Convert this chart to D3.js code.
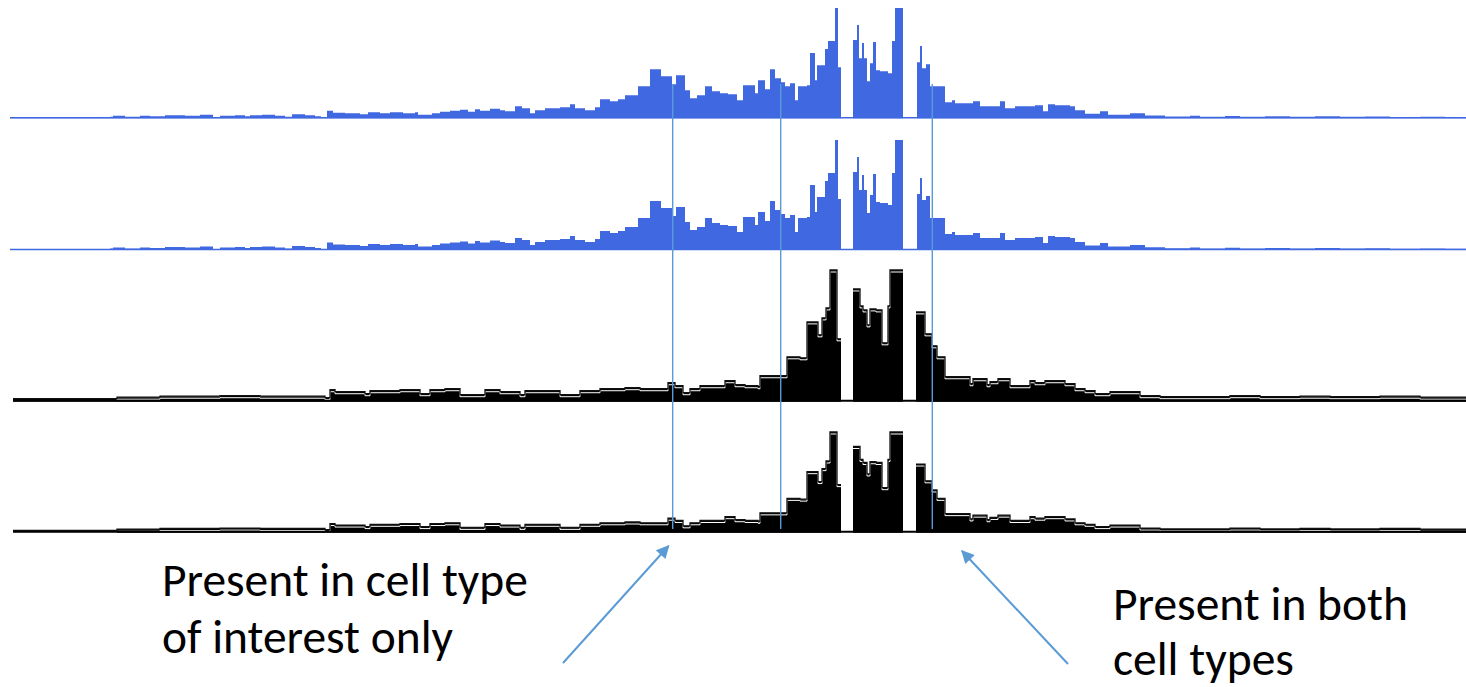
<!DOCTYPE html>
<html>
<head>
<meta charset="utf-8">
<script src="https://cdn.jsdelivr.net/npm/d3@7"></script>
<style>
  html, body { margin: 0; padding: 0; background: #fff; }
  svg { display: block; }
</style>
</head>
<body>
<svg id="chart" width="1466" height="687"></svg>
<script>
// Window length (kb) shown in every track
const windowKb = 1456;

// Coverage profile for the cell type of interest (blue tracks):
// each value holds from its break to the next break; null = unmappable gap
const blueBreaks = [0, 100, 103, 115, 130, 140, 155, 175, 190, 203, 210, 225, 235, 240, 252, 265, 275, 282, 295, 305, 311, 317, 323, 335, 350, 358, 370, 380, 393, 405, 408, 422, 430, 440, 450, 458, 465, 470, 480, 490, 495, 505, 512, 520, 525, 535, 550, 560, 565, 575, 585, 590, 600, 608, 615, 628, 640, 651, 662, 666, 675, 680, 687, 695, 702, 710, 718, 727, 733, 745, 748, 755, 760, 765, 771, 775, 780, 785, 788, 797, 800, 805, 807, 815, 818, 825, 828, 831, 843, 847, 849, 852, 854, 857, 860, 863, 866, 870, 878, 882, 885, 893, 907, 910, 912, 916, 920, 935, 942, 945, 963, 970, 990, 995, 1005, 1025, 1033, 1038, 1045, 1060, 1065, 1075, 1090, 1098, 1120, 1135, 1155, 1180, 1190, 1215, 1230, 1255, 1280, 1305, 1330, 1355, 1380, 1410, 1435, 1456];
const blueSignal = [0.5, 1.5, 2.5, 1.5, 2.5, 2, 3, 2.5, 3.5, 1, 2.5, 3, 2, 3, 3.5, 2.5, 1.5, 4, 3, 2, 0.5, 7.5, 5.5, 5, 4, 6, 5, 6, 5, 6, 3.5, 5, 6.5, 7.5, 8.5, 6.5, 9, 7.5, 9.5, 8, 7, 12, 10, 5, 8, 10, 11, 14, 10, 8, 11, 19, 17, 19, 23, 32, 49, 42, 34, 43, 28, 20, 23, 32, 27, 25, 24, 18, 33, 25, 38, 29, 49, 40, 36, 32, 35, 18, 32, 33, 65, 38, 53, 69, 77, 110, 51, null, 78, 93, 60, 75, 60, 37, 55, 76, 48, 47, 45, 77, 110, null, 56, 72, 50, 54, 32, 16, 18, 15, 17, 12, 17, 10, 12, 13, 7, 14, 13, 12, 8, 4.5, 7, 3.5, 5, 2.7, 1.7, 2.5, 1.5, 2.2, 1.5, 2, 1.5, 2, 1.5, 1.8, 1.2, 1.5, 1.2];

// Coverage profile for the comparison cell type (black tracks)
const blackBreaks = [3, 107, 150, 210, 250, 280, 315, 320, 325, 355, 360, 390, 410, 420, 435, 450, 475, 490, 510, 515, 550, 570, 590, 615, 630, 658, 665, 673, 680, 690, 715, 725, 735, 748, 750, 777, 790, 797, 808, 812, 816, 820, 827, 831, 843, 850, 853, 857, 860, 866, 872, 878, 880, 893, 906, 915, 922, 927, 935, 960, 963, 977, 980, 988, 1000, 1020, 1025, 1035, 1055, 1065, 1075, 1085, 1100, 1130, 1150, 1220, 1250, 1290, 1320, 1370, 1410, 1456];
const blackSignal = [3, 4.5, 5.5, 6, 5.5, 5.5, 4, 12, 10, 8, 11, 12, 8, 12, 13, 7, 12, 10, 7, 11, 7, 11, 13, 14, 13, 19, 16, 9, 13, 16, 21, 17, 16, 15, 26, 45, 44, 80, 67, 84, 94, 132, 63, null, 113, 96, 92, 77, 93, 92, 59, 96, 132, null, 90, 68, 56, 45, 25, 18, 23, 17, 20, 23, 16, 21, 19, 21, 18, 13, 11, 8, 10, 6, 5, 6, 5, 5.5, 5, 5.5, 4.5];

// Sites marked across all four tracks (kb)
const markerKb = [662.7, 770.7, 922.3];

// Annotation text
const leftNote = ["Present in cell type", "of interest only"];
const rightNote = ["Present in both", "cell types"];

const svg = d3.select("#chart");
const x = d3.scaleLinear().domain([0, windowKb]).range([10, 1466]);

const blue = "#4169e1";
const markBlue = "#5b9bd5";

// Track layout: baseline and top of each panel
const tracks = [
  { breaks: blueBreaks, signal: blueSignal, max: 110, base: 118.3, top: 8, kind: "blue" },
  { breaks: blueBreaks, signal: blueSignal, max: 110, base: 250, top: 140, kind: "blue" },
  { breaks: blackBreaks, signal: blackSignal, max: 132, base: 401.7, top: 270, kind: "black" },
  { breaks: blackBreaks, signal: blackSignal, max: 132, base: 532.7, top: 432, kind: "black" }
];

// Expand break/value pairs into explicit step vertices
function stepPoints(breaks, signal) {
  const pts = [];
  for (let i = 0; i < signal.length; i++) {
    const v = signal[i];
    if (v === null) { pts.push({ k: breaks[i], v: null }); continue; }
    pts.push({ k: breaks[i], v });
    pts.push({ k: breaks[i + 1], v });
  }
  return pts;
}

const defs = svg.append("defs");
defs.append("filter").attr("id", "soft")
  .attr("x", "-2%").attr("y", "-5%").attr("width", "104%").attr("height", "110%")
  .append("feGaussianBlur").attr("stdDeviation", 0.7);

defs.append("marker").attr("id", "head")
  .attr("markerUnits", "userSpaceOnUse")
  .attr("viewBox", "0 0 10 10").attr("refX", 9).attr("refY", 5)
  .attr("markerWidth", 15).attr("markerHeight", 13)
  .attr("orient", "auto")
  .append("path").attr("d", "M0,0L10,5L0,10Z").attr("fill", markBlue);

tracks.forEach(t => {
  const y = d3.scaleLinear().domain([0, t.max]).range([t.base, t.top]).clamp(true);
  const pts = stepPoints(t.breaks, t.signal);
  const area = d3.area()
    .defined(d => d.v !== null)
    .x(d => x(d.k)).y0(t.base).y1(d => y(d.v));
  const line = d3.line()
    .defined(d => d.v !== null)
    .x(d => x(d.k)).y(d => y(d.v));

  const g = svg.append("g");
  if (t.kind === "blue") {
    g.attr("filter", "url(#soft)");
    g.append("line")
      .attr("x1", x(t.breaks[0])).attr("x2", x(windowKb))
      .attr("y1", t.base - 0.5).attr("y2", t.base - 0.5)
      .attr("stroke", blue).attr("stroke-width", 1.5);
    g.append("path").datum(pts).attr("d", area).attr("fill", blue);
  } else {
    g.append("path").datum(pts).attr("d", area).attr("fill", "#000");
    // inner white rim just under the outline
    g.append("path").datum(pts).attr("d", line)
      .attr("transform", "translate(0,2)")
      .attr("fill", "none").attr("stroke", "#fff").attr("stroke-width", 1);
    g.append("path").datum(pts).attr("d", line)
      .attr("fill", "none").attr("stroke", "#111").attr("stroke-width", 1.3);
    g.append("line")
      .attr("x1", x(t.breaks[0])).attr("x2", x(windowKb))
      .attr("y1", t.base - 1).attr("y2", t.base - 1)
      .attr("stroke", "#000").attr("stroke-width", 2);
  }
});

// Vertical marker lines through the stack
svg.append("g").selectAll("line").data(markerKb).join("line")
  .attr("x1", d => x(d)).attr("x2", d => x(d))
  .attr("y1", 84).attr("y2", 529)
  .attr("stroke", markBlue).attr("stroke-width", 1.4);

// Annotation arrows
const arrows = [
  { from: [553, 663], to: [658.5, 546] },
  { from: [1058, 664], to: [952, 551] }
];
svg.append("g").selectAll("line").data(arrows).join("line")
  .attr("x1", d => x(d.from[0])).attr("y1", d => d.from[1])
  .attr("x2", d => x(d.to[0])).attr("y2", d => d.to[1])
  .attr("stroke", markBlue).attr("stroke-width", 2)
  .attr("marker-end", "url(#head)");

// Annotation text, sized to the note width
const font = "Calibri, Carlito, Lato, 'Open Sans', sans-serif";
function note(lines, left, baselines, width) {
  const t = svg.append("g").selectAll("text").data(lines).join("text")
    .attr("x", left).attr("y", (d, i) => baselines[i])
    .attr("font-family", font).attr("font-size", 40).attr("fill", "#000")
    .text(d => d);
  const w = t.nodes()[0].getComputedTextLength();
  t.attr("font-size", 40 * width / w);
}
note(leftNote, 162, [596, 653], 366);
note(rightNote, 1113, [620, 675], 295);
</script>
</body>
</html>
